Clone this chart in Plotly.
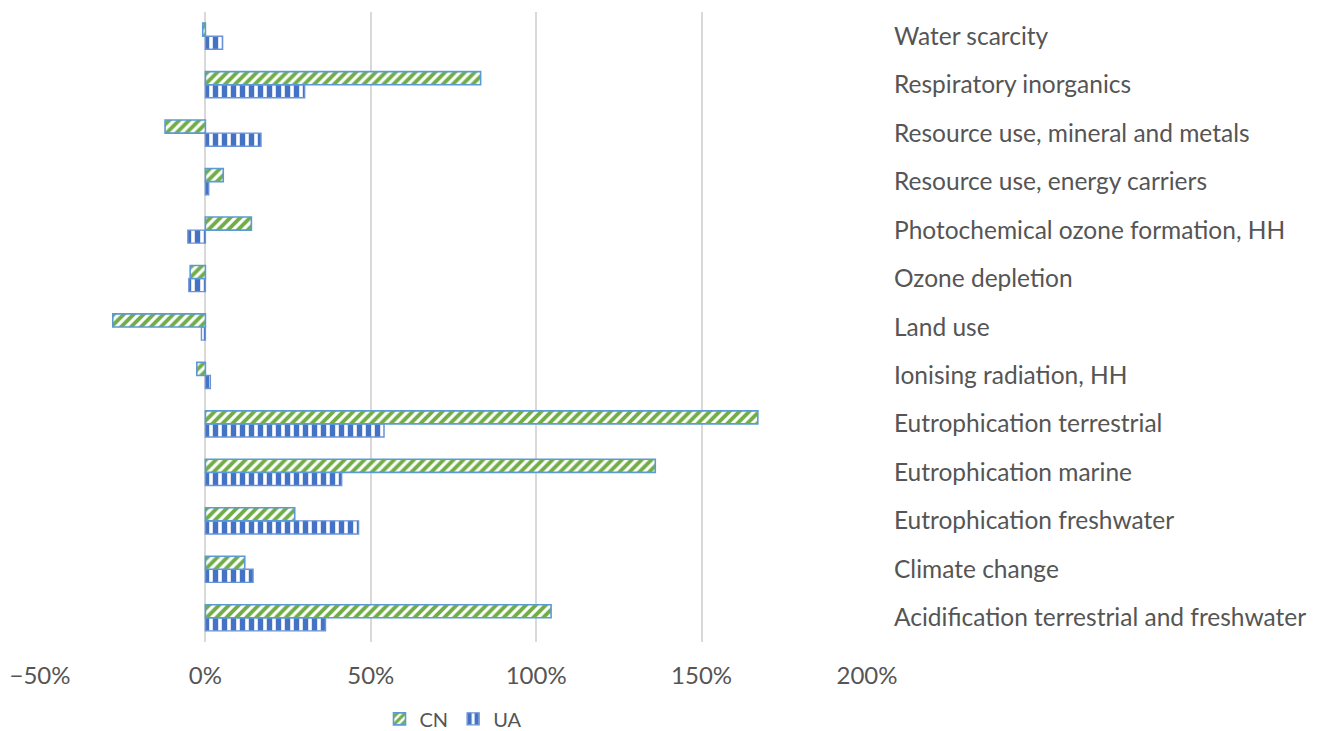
import plotly.graph_objects as go

# Impact categories, listed bottom to top
categories = [
    "Acidification terrestrial and freshwater",
    "Climate change",
    "Eutrophication freshwater",
    "Eutrophication marine",
    "Eutrophication terrestrial",
    "Ionising radiation, HH",
    "Land use",
    "Ozone depletion",
    "Photochemical ozone formation, HH",
    "Resource use, energy carriers",
    "Resource use, mineral and metals",
    "Respiratory inorganics",
    "Water scarcity",
]

# Relative change (%) per category
cn_values = [104.5, 11.9, 27.0, 136.0, 167.0, -2.6, -28.0, -4.6, 13.9, 5.4, -12.2, 83.2, -0.8]
ua_values = [36.3, 14.4, 46.3, 41.2, 54.0, 1.5, -1.2, -5.0, -5.3, 1.0, 16.8, 30.0, 5.2]

x_ticks = [-50, 0, 50, 100, 150, 200]
x_tick_labels = ["\u221250%", "0%", "50%", "100%", "150%", "200%"]

font_family = "Lato, 'Open Sans', sans-serif"
text_color = "#555555"

fig = go.Figure()

# UA drawn first so it sits below CN inside each category band
fig.add_trace(go.Bar(
    y=categories, x=ua_values, orientation="h", name="UA",
    legendrank=2,
    marker=dict(
        color="white",
        pattern=dict(shape="|", fgcolor="#4472C4", bgcolor="white",
                     size=9, solidity=0.6, fillmode="replace"),
        line=dict(color="#6A92D6", width=1.4),
    ),
))
fig.add_trace(go.Bar(
    y=categories, x=cn_values, orientation="h", name="CN",
    legendrank=1,
    marker=dict(
        color="white",
        pattern=dict(shape="/", fgcolor="#70AD47", bgcolor="white",
                     size=7, solidity=0.55, fillmode="replace"),
        line=dict(color="#5B9BD5", width=1.6),
    ),
))

fig.update_layout(
    width=1320, height=731,
    margin=dict(l=40, r=453, t=12, b=89, autoexpand=False),
    paper_bgcolor="white", plot_bgcolor="white",
    barmode="group", bargap=0.46, bargroupgap=0.0,
    font=dict(family=font_family, size=24, color=text_color),
    showlegend=True,
    legend=dict(
        orientation="h", x=0.5, xanchor="center",
        y=-0.122, yanchor="middle",
        font=dict(size=20, color=text_color), itemwidth=30,
        traceorder="normal",
    ),
    xaxis=dict(
        range=[-50, 200], tickvals=x_ticks, ticktext=x_tick_labels,
        showgrid=True, gridcolor="#D9D9D9", gridwidth=1.5,
        zeroline=True, zerolinecolor="#D9D9D9", zerolinewidth=1.5,
        showline=False, ticks="", ticklabelstandoff=17,
        tickfont=dict(size=24, color=text_color),
        automargin=False, fixedrange=True,
    ),
    yaxis=dict(
        side="right", type="category",
        categoryorder="array", categoryarray=categories,
        showgrid=False, zeroline=False, showline=False, ticks="",
        ticklabelstandoff=26,
        tickfont=dict(size=24.5, color=text_color),
        automargin=False, fixedrange=True,
    ),
)

fig.write_html("out.html")
